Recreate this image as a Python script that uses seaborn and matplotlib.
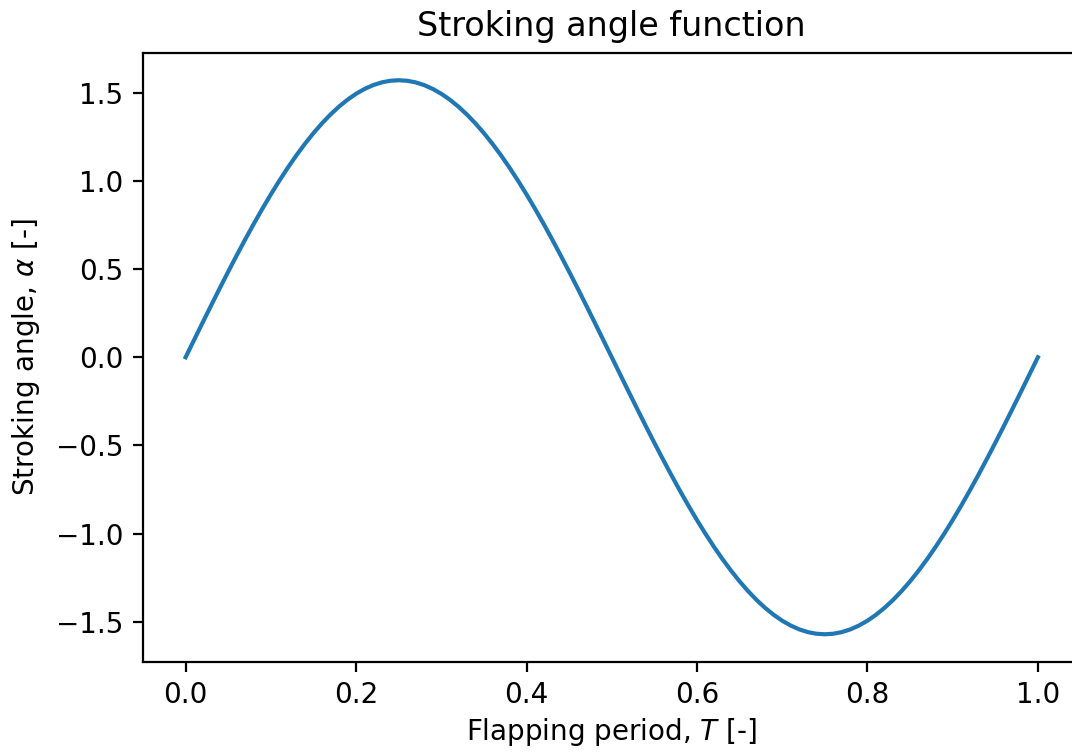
import pandas as pd
import matplotlib
matplotlib.use('Agg')
import matplotlib.pyplot as plt
import seaborn as sns

# Values (every 0.01 of the period)
period = [round(i * 0.01, 2) for i in range(101)]
alpha = [0.0, 0.0986, 0.1969, 0.2943, 0.3906, 0.4854, 0.5782, 0.6688, 0.7567, 0.8417,
         0.9233, 1.0013, 1.0753, 1.1451, 1.2103, 1.2708, 1.3263, 1.3765, 1.4213, 1.4605,
         1.4939, 1.5214, 1.5430, 1.5584, 1.5677, 1.5708, 1.5677, 1.5584, 1.5430, 1.5214,
         1.4939, 1.4605, 1.4213, 1.3765, 1.3263, 1.2708, 1.2103, 1.1451, 1.0753, 1.0013,
         0.9233, 0.8417, 0.7567, 0.6688, 0.5782, 0.4854, 0.3906, 0.2943, 0.1969, 0.0986,
         0.0, -0.0986, -0.1969, -0.2943, -0.3906, -0.4854, -0.5782, -0.6688, -0.7567, -0.8417,
         -0.9233, -1.0013, -1.0753, -1.1451, -1.2103, -1.2708, -1.3263, -1.3765, -1.4213, -1.4605,
         -1.4939, -1.5214, -1.5430, -1.5584, -1.5677, -1.5708, -1.5677, -1.5584, -1.5430, -1.5214,
         -1.4939, -1.4605, -1.4213, -1.3765, -1.3263, -1.2708, -1.2103, -1.1451, -1.0753, -1.0013,
         -0.9233, -0.8417, -0.7567, -0.6688, -0.5782, -0.4854, -0.3906, -0.2943, -0.1969, -0.0986,
         0.0]

df = pd.DataFrame({'period': period, 'alpha': alpha})

fig = plt.figure(figsize=(5.36, 3.76), dpi=200)
ax = fig.add_axes([143 / 1072, 1 - 662 / 752, (1080.5 - 143) / 1072, (662 - 52.5) / 752])
sns.lineplot(data=df, x='period', y='alpha', ax=ax, color='#1f77b4', linewidth=1.5)

ax.set_xlim(-0.05, 1.05)
ax.set_ylim(-1.728, 1.728)
ax.set_title('Stroking angle function')
ax.set_xlabel('Flapping period, $T$ [-]', labelpad=2.5)
ax.set_ylabel(r'Stroking angle, $\alpha$ [-]', labelpad=5)

fig.savefig('out.png', dpi=200)
